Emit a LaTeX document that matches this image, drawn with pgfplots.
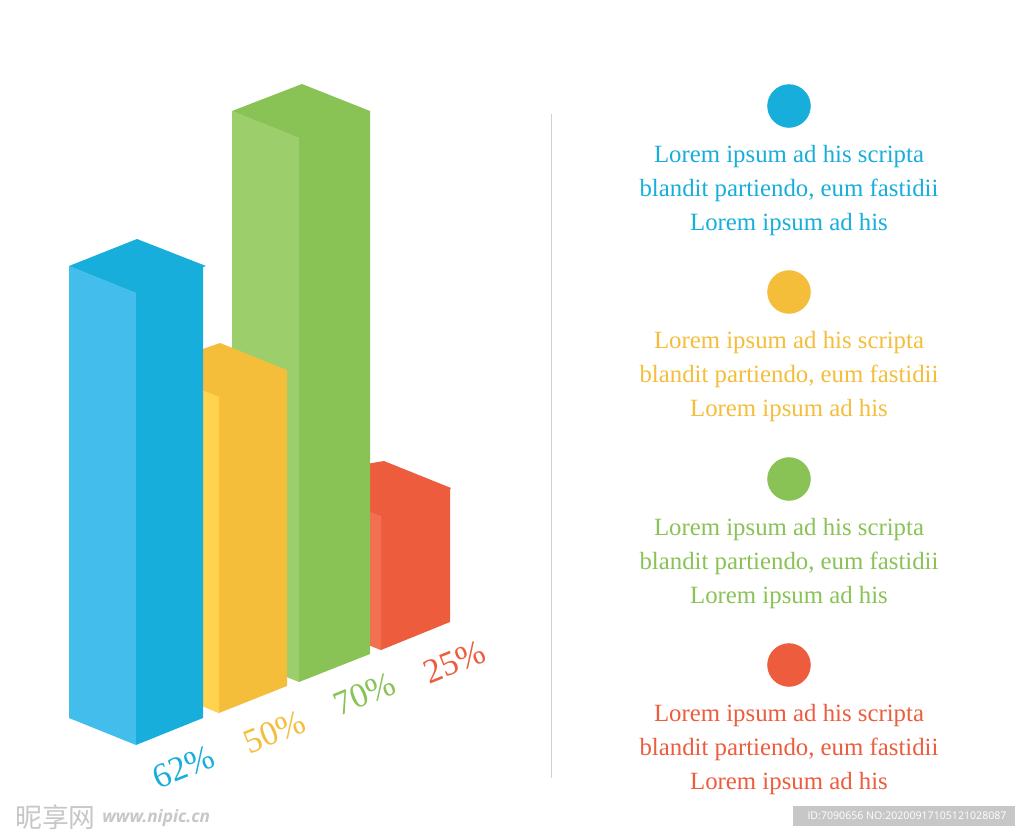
\documentclass[border=0pt]{standalone}
\usepackage{fontspec}
\setmainfont{Liberation Serif}
\newfontfamily\cjk{Noto Sans CJK SC}
\newfontfamily\sans{Open Sans}
\usepackage{pgfplots}
\pgfplotsset{compat=1.18}
\definecolor{cblue}{HTML}{17AEDC}
\definecolor{lblue}{HTML}{43BEEC}
\definecolor{cyel}{HTML}{F5BE3A}
\definecolor{lyel}{HTML}{FFD24F}
\definecolor{cgrn}{HTML}{89C355}
\definecolor{lgrn}{HTML}{9CCE6C}
\definecolor{cred}{HTML}{ED5C3D}
\definecolor{lred}{HTML}{F0704F}
\newcommand{\lorem}[2]{%
  \node[text=#1,font=\fontsize{12.4}{17}\selectfont,align=center,anchor=center]
    at (axis cs:789,#2) {Lorem ipsum ad his scripta\\blandit partiendo, eum fastidii\\Lorem ipsum ad his};}
\begin{document}
\begin{tikzpicture}
\begin{axis}[
  scale only axis,
  width=512pt,
  height=418pt,
  xmin=0, xmax=1024,
  ymin=0, ymax=836,
  y dir=reverse,
  axis lines=none,
  clip=false,
]
% page background, keeps the full frame
\addplot[fill=white,draw=none] coordinates {(0,0) (1024,0) (1024,836) (0,836)} -- cycle;
% red bar
\addplot[fill=cred,draw=none] coordinates {(360,465) (384,461) (451,488) (450,489) (450,622) (381,650) (360,640)} -- cycle;
\addplot[fill=lred,draw=none] coordinates {(368,511) (381,516) (381,650) (368,645)} -- cycle;
% green bar
\addplot[fill=lgrn,draw=none] coordinates {(232,111) (299,138) (299,682) (232,655)} -- cycle;
\addplot[fill=cgrn,draw=none] coordinates {(232,111) (302,84) (370,111) (370,654) (299,682) (299,138)} -- cycle;
% yellow bar
\addplot[fill=cyel,draw=none] coordinates {(200,350) (220,343) (287,370) (287,686) (219,713) (200,705)} -- cycle;
\addplot[fill=lyel,draw=none] coordinates {(200,389) (219,397) (219,713) (200,705)} -- cycle;
% blue bar
\addplot[fill=lblue,draw=none] coordinates {(69,266) (136,293) (136,745) (69,718)} -- cycle;
\addplot[fill=cblue,draw=none] coordinates {(69,266) (137,239) (206,266) (203,267) (203,718) (136,745) (136,293)} -- cycle;
% divider
\addplot[color=black!18,line width=0.5pt] coordinates {(551.5,114) (551.5,778)};
% legend dots
\addplot[only marks,mark=*,mark size=10.7pt,color=cblue,mark options={fill=cblue,line width=0.3pt}] coordinates {(789,106)};
\addplot[only marks,mark=*,mark size=10.7pt,color=cyel,mark options={fill=cyel,line width=0.3pt}] coordinates {(789,292)};
\addplot[only marks,mark=*,mark size=10.7pt,color=cgrn,mark options={fill=cgrn,line width=0.3pt}] coordinates {(789,479)};
\addplot[only marks,mark=*,mark size=10.7pt,color=cred,mark options={fill=cred,line width=0.3pt}] coordinates {(789,665)};
% watermark box
\addplot[fill=black!22,draw=none] coordinates {(793,806) (1015,806) (1015,826) (793,826)} -- cycle;
\lorem{cblue}{191}
\lorem{cyel}{377}
\lorem{cgrn}{564}
\lorem{cred}{750}
\node[text=cblue,rotate=22,font=\fontsize{17.2}{18}\selectfont,inner sep=0pt] at (axis cs:184,767) {62\%};
\node[text=cyel,rotate=22,font=\fontsize{17.2}{18}\selectfont,inner sep=0pt] at (axis cs:275,732) {50\%};
\node[text=cgrn,rotate=22,font=\fontsize{17.2}{18}\selectfont,inner sep=0pt] at (axis cs:365,694) {70\%};
\node[text=cred,rotate=22,font=\fontsize{17.2}{18}\selectfont,inner sep=0pt] at (axis cs:455,662) {25\%};
\node[text=white,font=\sans\fontsize{5.3}{6}\selectfont,inner sep=0pt] at (axis cs:907,816) {ID:7090656 NO:20200917105121028087};
\node[text=black!22,font=\cjk\fontsize{13.4}{14}\selectfont,anchor=west,inner sep=0pt] at (axis cs:15,817) {昵享网};
\node[text=black!22,font=\sans\bfseries\itshape\fontsize{8.6}{10}\selectfont,anchor=west,inner sep=0pt] at (axis cs:102,818) {www.nipic.cn};
\end{axis}
\end{tikzpicture}
\end{document}
